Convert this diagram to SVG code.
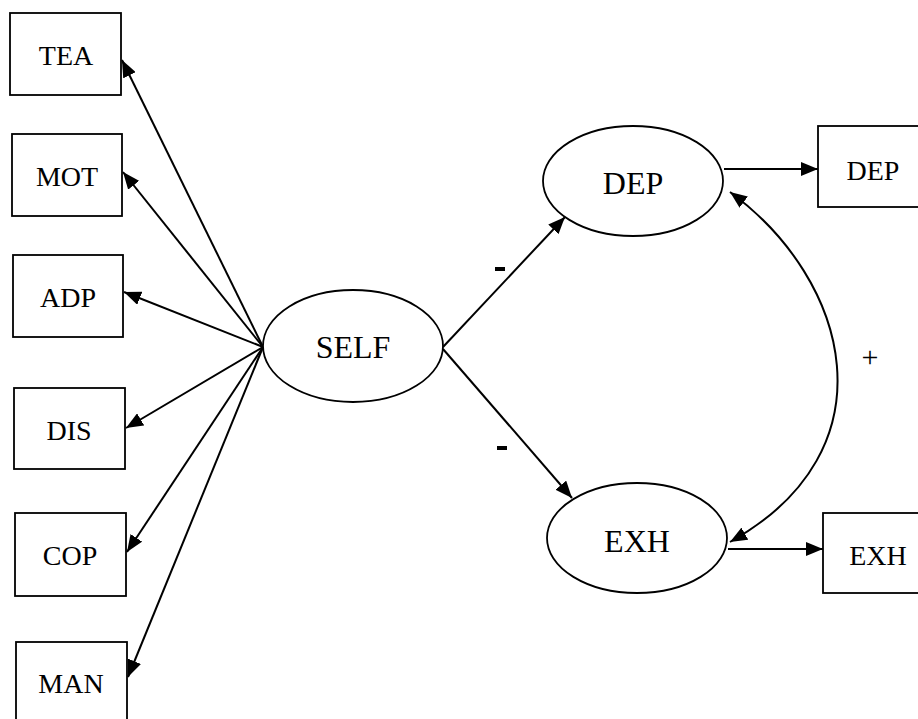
<svg xmlns="http://www.w3.org/2000/svg" width="918" height="719" viewBox="0 0 918 719">
<style>
.box{fill:#fff;stroke:#000;stroke-width:1.8}
.ell{fill:#fff;stroke:#000;stroke-width:1.8}
.bt{font-family:"Liberation Serif",serif;font-size:28px;fill:#000;text-anchor:middle}
.et{font-family:"Liberation Serif",serif;font-size:32px;fill:#000;text-anchor:middle}
.lbl{font-family:"Liberation Serif",serif;fill:#000;text-anchor:middle}
.c{fill:none;stroke:#000;stroke-width:2}
</style>
<defs>
<marker id="ah" markerUnits="userSpaceOnUse" markerWidth="18" markerHeight="14" refX="17" refY="7" orient="auto-start-reverse" viewBox="0 0 18 14">
<path d="M0,0 L17,7 L0,14 Z" fill="#000"/>
</marker>
</defs>
<rect width="918" height="719" fill="#fff"/>
<g id="connectors">
<line class="c" x1="263" y1="347" x2="122" y2="60" marker-end="url(#ah)"/>
<line class="c" x1="263" y1="347" x2="123" y2="172" marker-end="url(#ah)"/>
<line class="c" x1="263" y1="347" x2="124" y2="292" marker-end="url(#ah)"/>
<line class="c" x1="263" y1="347" x2="126" y2="428" marker-end="url(#ah)"/>
<line class="c" x1="263" y1="347" x2="127" y2="552" marker-end="url(#ah)"/>
<line class="c" x1="263" y1="347" x2="128" y2="677" marker-end="url(#ah)"/>
<line class="c" x1="443" y1="347" x2="565" y2="217" marker-end="url(#ah)"/>
<line class="c" x1="443" y1="349" x2="572" y2="498" marker-end="url(#ah)"/>
<line class="c" x1="724" y1="169" x2="818" y2="169" marker-end="url(#ah)"/>
<line class="c" x1="728" y1="549" x2="823" y2="549" marker-end="url(#ah)"/>
<path class="c" d="M730,192 C850,280 895,450 730,542" marker-start="url(#ah)" marker-end="url(#ah)"/>
<rect x="495" y="267" width="10" height="4" fill="#000"/>
<rect x="497" y="446" width="10" height="4" fill="#000"/>
<text class="lbl" x="870" y="367" font-size="30">+</text>
</g>
<g id="TEA"><rect class="box" x="10" y="13" width="111" height="82"/><text class="bt" x="66" y="65">TEA</text></g>
<g id="MOT"><rect class="box" x="12" y="134" width="110" height="82"/><text class="bt" x="67" y="186">MOT</text></g>
<g id="ADP"><rect class="box" x="13" y="255" width="110" height="82"/><text class="bt" x="68" y="307">ADP</text></g>
<g id="DIS"><rect class="box" x="14" y="388" width="111" height="81"/><text class="bt" x="69" y="440">DIS</text></g>
<g id="COP"><rect class="box" x="15" y="513" width="111" height="83"/><text class="bt" x="70" y="565">COP</text></g>
<g id="MAN"><rect class="box" x="16" y="642" width="111" height="90"/><text class="bt" x="71" y="693">MAN</text></g>
<g id="SELF"><ellipse class="ell" cx="353" cy="346" rx="90" ry="56"/><text class="et" x="353" y="358">SELF</text></g>
<g id="DEP_latent"><ellipse class="ell" cx="633" cy="181" rx="90" ry="55"/><text class="et" x="633" y="194">DEP</text></g>
<g id="EXH_latent"><ellipse class="ell" cx="637" cy="538" rx="90" ry="55"/><text class="et" x="637" y="552">EXH</text></g>
<g id="DEP_box"><rect class="box" x="818" y="126" width="110" height="81"/><text class="bt" x="873" y="180">DEP</text></g>
<g id="EXH_box"><rect class="box" x="823" y="513" width="110" height="80"/><text class="bt" x="878" y="565">EXH</text></g>
</svg>
